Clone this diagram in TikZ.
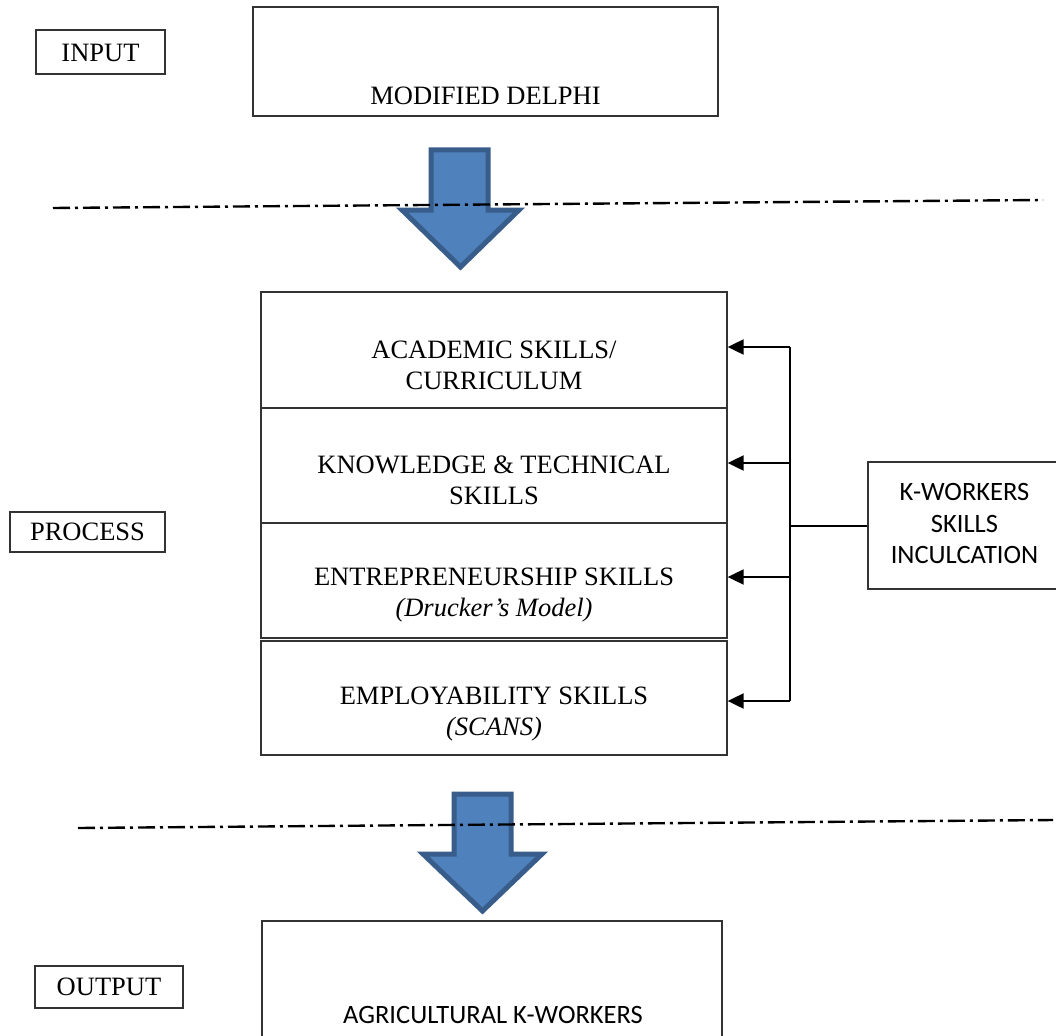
\documentclass[tikz,border=0pt]{standalone}
\usepackage{fontspec}
\setmainfont{Liberation Serif}
\newfontfamily\calsans{Carlito}
\usetikzlibrary{arrows.meta}

\definecolor{arrowfill}{HTML}{4F81BD}
\definecolor{arrowedge}{HTML}{385D8A}
\definecolor{boxline}{HTML}{333333}

\begin{document}
\begin{tikzpicture}[x=1pt,y=-1pt,
 box/.style={draw=boxline, line width=1.3pt, rectangle, inner sep=0pt},
 txt/.style={inner sep=0pt, align=center, font=\fontsize{26.5}{31}\selectfont},
 stxt/.style={inner sep=0pt, align=center, font=\calsans\fontsize{26.5}{31.5}\selectfont},
 conn/.style={line width=2pt, -{Triangle[length=16pt,width=15pt]}},
 bus/.style={line width=2pt},
 sepline/.style={line width=2.4pt, dash pattern=on 17pt off 5pt on 3pt off 5pt},
 blockarrow/.style={fill=arrowfill, draw=arrowedge, line width=5pt}]
\useasboundingbox (0,0) rectangle (1056,1035);

% boxes
\node[box, minimum width=129pt, minimum height=44pt] (inbox) at (100.5,52) {};
\node[box, minimum width=465pt, minimum height=109pt] (mdbox) at (485.5,61.5) {};
\node[box, minimum width=466pt, minimum height=116pt] (box1) at (494,350) {};
\node[box, minimum width=466pt, minimum height=115pt] (box2) at (494,465.5) {};
\node[box, minimum width=466pt, minimum height=115pt] (box3) at (494,580.5) {};
\node[box, minimum width=466pt, minimum height=114pt] (box4) at (494,698) {};
\node[box, minimum width=155pt, minimum height=40pt] (prbox) at (87.5,532) {};
\node[box, minimum width=193pt, minimum height=127pt] (kbox) at (964.5,525.5) {};
\node[box, minimum width=460pt, minimum height=119pt] (agbox) at (492,980.5) {};
\node[box, minimum width=148pt, minimum height=42pt] (outbox) at (109,987) {};

% texts
\node[txt] (tin) at (100.5,53) {INPUT};
\node[txt] (tmd) at (485.5,96) {MODIFIED DELPHI};
\node[txt] (t1) at (494,365) {ACADEMIC SKILLS/\\CURRICULUM};
\node[txt] (t2) at (494,480) {KNOWLEDGE \& TECHNICAL\\SKILLS};
\node[txt] (t3) at (494,595) {ENTREPRENEURSHIP SKILLS\\\textit{(Drucker’s Model)}};
\node[txt] (t4) at (494,714) {EMPLOYABILITY SKILLS\\\textit{(SCANS)}};
\node[txt] (tpr) at (87.5,532) {PROCESS};
\node[stxt] (tk) at (964.5,523.5) {K-WORKERS\\SKILLS\\INCULCATION};
\node[stxt] (tag) at (493,1015) {AGRICULTURAL K-WORKERS};
\node[txt] (tout) at (109,987) {OUTPUT};

% block arrows
\draw[blockarrow] (431,150) -- (488,150) -- (488,210) -- (519,210) -- (460.5,267) -- (402,210) -- (431,210) -- cycle;
\draw[blockarrow] (454,794) -- (511,794) -- (511,854) -- (542,854) -- (482.5,911) -- (423,854) -- (454,854) -- cycle;

% separator lines
\coordinate (s1a) at (53,208);
\coordinate (s1b) at (1043,200);
\coordinate (s2a) at (78,828);
\coordinate (s2b) at (1053,820);
\draw[sepline] (s1a) -- (s1b);
\draw[sepline] (s2a) -- (s2b);

% right connectors
\coordinate (b1) at (790,347);
\coordinate (b2) at (790,463);
\coordinate (b3) at (790,577);
\coordinate (b4) at (790,701);
\coordinate (bk) at (790,526);
\draw[bus] (b1) -- (b4);
\draw[bus] (bk) -- (bk -| kbox.west);
\draw[conn] (b1) -- (b1 -| box1.east);
\draw[conn] (b2) -- (b2 -| box2.east);
\draw[conn] (b3) -- (b3 -| box3.east);
\draw[conn] (b4) -- (b4 -| box4.east);
\end{tikzpicture}
\end{document}
